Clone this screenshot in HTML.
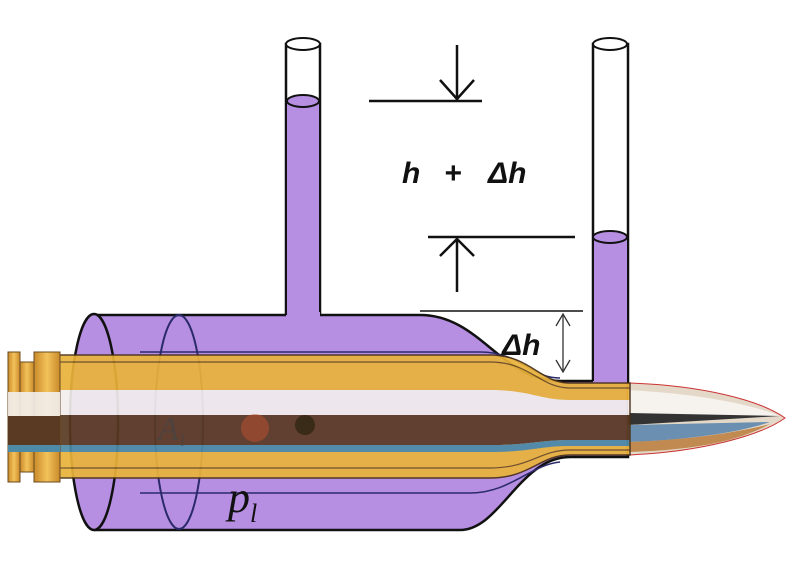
<!DOCTYPE html>
<html><head><meta charset="utf-8"><style>html,body{margin:0;padding:0;background:#fff}svg{display:block}</style></head>
<body>
<svg width="800" height="568" viewBox="0 0 800 568" xmlns="http://www.w3.org/2000/svg">
<defs>
<linearGradient id="rim" x1="0" x2="1" y1="0" y2="0"><stop offset="0" stop-color="#c98a2a"/><stop offset="0.5" stop-color="#f3c25a"/><stop offset="1" stop-color="#c98a2a"/></linearGradient>
</defs>
<rect x="286" y="44" width="34" height="275" fill="#fff" stroke="#111" stroke-width="2.5"/>
<rect x="287" y="101" width="32" height="220" fill="#b68fe2"/>
<ellipse cx="303" cy="101" rx="16" ry="6" fill="#b68fe2" stroke="#111" stroke-width="2"/>
<ellipse cx="303" cy="44" rx="17" ry="6" fill="#fff" stroke="#111" stroke-width="2"/>
<rect x="593" y="44" width="35" height="340" fill="#fff" stroke="#111" stroke-width="2.5"/>
<rect x="594" y="237" width="33" height="146" fill="#b68fe2"/>
<ellipse cx="610" cy="237" rx="17" ry="6" fill="#b68fe2" stroke="#111" stroke-width="2"/>
<ellipse cx="610" cy="44" rx="17" ry="6" fill="#fff" stroke="#111" stroke-width="2"/>
<path d="M94 315 L287 315 L287 312 L320 312 L320 315 L420 315 C480 315 500 380 560 381 L594 381 L594 383 L628 383 L628 457 L570 457 C520 457 500 530 460 530 L94 530 Z" fill="#b68fe2"/>
<path d="M94 315 L286 315 M320 315 L420 315 C480 315 500 380 560 381 L593 381 M628 383 L628 457 L570 457 C520 457 500 530 460 530 L94 530" fill="none" stroke="#111" stroke-width="2.5"/>
<ellipse cx="94" cy="422" rx="24" ry="108" fill="#b68fe2" stroke="#111" stroke-width="2.5"/>
<ellipse cx="179" cy="422" rx="24" ry="107" fill="none" stroke="#2a2a6a" stroke-width="2"/>
<path d="M140 352 L480 352 C520 352 530 378 560 378" fill="none" stroke="#2a2a6a" stroke-width="1.5"/>
<path d="M140 493 L470 493 C510 493 530 465 560 462" fill="none" stroke="#2a2a6a" stroke-width="1.5"/>
<path d="M628 383 C700 385 760 400 785 418 C760 436 700 452 628 455 Z" fill="#e4d8c8" stroke="#c33" stroke-width="1"/>
<path d="M628 390 C700 394 750 404 780 416 L628 416 Z" fill="#f6f2ee"/>
<path d="M628 413 L780 416 L628 425 Z" fill="#333"/>
<path d="M628 425 L770 422 C740 432 690 440 628 442 Z" fill="#6a8fb0"/>
<path d="M628 442 C690 440 740 432 770 424 C740 440 700 450 628 452 Z" fill="#c08a50"/>
<g opacity="0.92">
<path d="M60 355 L490 355 C530 355 540 383 570 383 L630 383 L630 455 L570 455 C540 455 530 478 490 478 L60 478 Z" fill="#e9b33a"/>
<path d="M60 390 L490 390 C530 390 540 400 570 400 L630 400 L630 415 L60 415 Z" fill="#f2eeee"/>
<path d="M60 415 L630 415 L630 440 L570 440 C540 440 530 445 490 445 L60 445 Z" fill="#5a3a22"/>
<path d="M60 445 L490 445 C530 445 540 440 570 440 L630 440 L630 446 L570 446 C540 446 530 452 490 452 L60 452 Z" fill="#4c8aa5"/>
<path d="M60 362 L490 362 C530 362 540 388 570 388 L630 388 M60 468 L490 468 C530 468 540 450 570 450 L630 450" fill="none" stroke="#6a4a20" stroke-width="1.2"/>
<path d="M60 355 L490 355 C530 355 540 383 570 383 L630 383 L630 455 L570 455 C540 455 530 478 490 478 L60 478" fill="none" stroke="#4a3018" stroke-width="1.5"/>
</g>
<rect x="8" y="352" width="12" height="130" fill="url(#rim)" stroke="#6a4a20"/>
<rect x="20" y="362" width="14" height="110" fill="url(#rim)" stroke="#6a4a20"/>
<rect x="34" y="352" width="26" height="130" fill="url(#rim)" stroke="#6a4a20"/>
<rect x="8" y="392" width="52" height="24" fill="#f2eeee" opacity="0.9"/>
<rect x="8" y="416" width="52" height="29" fill="#5a3a22"/>
<rect x="8" y="445" width="52" height="7" fill="#4c8aa5"/>
<circle cx="305" cy="425" r="10" fill="#3a2a18"/>
<circle cx="255" cy="428" r="14" fill="#c05030" opacity="0.5"/>
<text x="158" y="440" font-family="Liberation Serif,serif" font-style="italic" font-size="34" fill="#444" opacity="0.6">A</text>
<text x="180" y="446" font-family="Liberation Serif,serif" font-style="italic" font-size="18" fill="#444" opacity="0.6">l</text>
<text x="228" y="512" font-family="Liberation Serif,serif" font-style="italic" font-size="44" fill="#111">p</text>
<text x="250" y="522" font-family="Liberation Serif,serif" font-style="italic" font-size="26" fill="#111">l</text>
<g stroke="#111" stroke-width="2.5" fill="none">
<line x1="369" y1="101" x2="482" y2="101"/>
<line x1="457" y1="45" x2="457" y2="100"/>
<polyline points="440,80 457,99 474,80"/>
<line x1="428" y1="237" x2="575" y2="237"/>
<line x1="457" y1="239" x2="457" y2="292"/>
<polyline points="440,256 457,239 474,256"/>
</g>
<line x1="420" y1="311" x2="583" y2="311" stroke="#111" stroke-width="1.5"/>
<g stroke="#333" stroke-width="1.3" fill="none">
<line x1="563" y1="314" x2="563" y2="372"/>
<polyline points="556,326 563,314 570,326"/>
<polyline points="556,360 563,372 570,360"/>
</g>
<g font-family="Liberation Sans,sans-serif" font-style="italic" font-weight="bold" font-size="30" fill="#111">
<text x="402" y="183">h</text>
<text x="444" y="183">+</text>
<text x="488" y="183">Δh</text>
<text x="502" y="355">Δh</text>
</g>
</svg>
</body></html>
